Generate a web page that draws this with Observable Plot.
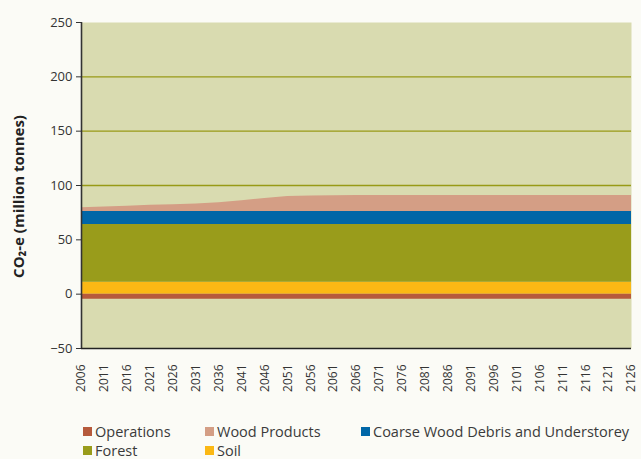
<!DOCTYPE html>
<html>
<head>
<meta charset="utf-8">
<script src="https://cdn.jsdelivr.net/npm/d3@7"></script>
<script src="https://cdn.jsdelivr.net/npm/@observablehq/plot@0.6"></script>
<style>
  html, body { margin: 0; padding: 0; background: #fbfbf6; }
  body { width: 641px; height: 459px; position: relative; overflow: hidden; font-family: "Open Sans", "DejaVu Sans", sans-serif; }
  #legend { position: absolute; left: 0; top: 0; width: 641px; height: 459px; pointer-events: none; }
  .item { position: absolute; font-size: 14.5px; color: #3a3a3a; line-height: 17px; white-space: nowrap; }
  .sw { position: absolute; width: 9px; height: 9px; left: 0; top: 4px; }
  .lbl { position: absolute; left: 12px; top: 0; }
</style>
</head>
<body>
<div id="chart"></div>
<div id="legend"></div>
<script>
// ---- data ----
const years = [2006, 2011, 2016, 2021, 2026, 2031, 2036, 2041, 2046, 2051, 2056, 2061, 2066, 2071, 2076, 2081, 2086, 2091, 2096, 2101, 2106, 2111, 2116, 2121, 2126];
const seriesNames = ["Soil", "Forest", "Coarse Wood Debris and Understorey", "Wood Products", "Operations"];
const soil       = [11, 11, 11, 11, 11, 11, 11, 11, 11, 11, 11, 11, 11, 11, 11, 11, 11, 11, 11, 11, 11, 11, 11, 11, 11];
const forest     = [53, 53, 53, 53, 53, 53, 53, 53, 53, 53, 53, 53, 53, 53, 53, 53, 53, 53, 53, 53, 53, 53, 53, 53, 53];
const cwd        = [12, 12, 12, 12, 12, 12, 12, 12, 12, 12, 12, 12, 12, 12, 12, 12, 12, 12, 12, 12, 12, 12, 12, 12, 12];
const woodProducts = [3.5, 4.2, 5.0, 5.8, 6.4, 7.0, 8.2, 10.0, 12.0, 13.8, 14.3, 14.6, 14.8, 14.8, 14.8, 14.8, 14.8, 14.8, 14.8, 14.8, 14.8, 14.8, 14.8, 14.8, 14.8];
const operations = [-4.6, -4.6, -4.6, -4.6, -4.6, -4.6, -4.6, -4.6, -4.6, -4.6, -4.6, -4.6, -4.6, -4.6, -4.6, -4.6, -4.6, -4.6, -4.6, -4.6, -4.6, -4.6, -4.6, -4.6, -4.6];
const yTicks = [-50, 0, 50, 100, 150, 200, 250];
const gridValues = [50, 100, 150, 200];
const legendOrder = ["Operations", "Wood Products", "Coarse Wood Debris and Understorey", "Forest", "Soil"];
const colors = {
  "Operations": "#b65a3c",
  "Wood Products": "#d49e85",
  "Coarse Wood Debris and Understorey": "#0066a7",
  "Forest": "#999c1b",
  "Soil": "#fbb814"
};

// ---- build table ----
const seriesValues = [soil, forest, cwd, woodProducts, operations];
const table = [];
seriesNames.forEach((name, i) => {
  years.forEach((yr, j) => table.push({ series: name, year: yr, value: seriesValues[i][j] }));
});

const chart = Plot.plot({
  width: 641,
  height: 410,
  marginTop: 22,
  marginBottom: 62,
  marginLeft: 81,
  marginRight: 10,
  style: { background: "transparent", fontFamily: "'Open Sans', 'DejaVu Sans', sans-serif", color: "#333" },
  x: { domain: [2006, 2126] },
  y: { domain: [-50, 250] },
  color: { domain: seriesNames, range: seriesNames.map(n => colors[n]) },
  marks: [
    Plot.frame({ fill: "#d9dbb0", stroke: null }),
    Plot.ruleY(gridValues, { stroke: "#989a17", strokeWidth: 1.3 }),
    Plot.areaY(table, { x: "year", y: "value", fill: "series", z: "series", curve: "linear" }),
    Plot.axisY({ ticks: yTicks, tickSize: 5, tickPadding: 4, fontSize: 13, label: null, stroke: "#333" }),
    Plot.axisX({ ticks: years, tickFormat: d => String(d), tickRotate: -90, tickSize: 0, tickPadding: 16, fontSize: 12, label: null }),
    Plot.ruleX([2006], { stroke: "#333", strokeWidth: 1.6 }),
    Plot.ruleY([-50], { stroke: "#222", strokeWidth: 1.5 }),
    Plot.text(["CO₂-e (million tonnes)"], { text: d => d, frameAnchor: "left", textAnchor: "middle", dx: -62, dy: 11, rotate: -90, fontWeight: "bold", fontSize: 15, fill: "#222" })
  ]
});
document.getElementById("chart").appendChild(chart);

// ---- legend ----
const legendPos = {
  "Operations": [83, 423],
  "Wood Products": [205, 423],
  "Coarse Wood Debris and Understorey": [361, 423],
  "Forest": [83, 442],
  "Soil": [205, 442]
};
const leg = document.getElementById("legend");
legendOrder.forEach(name => {
  const [lx, ly] = legendPos[name];
  const it = document.createElement("div");
  it.className = "item";
  it.style.left = lx + "px";
  it.style.top = ly + "px";
  it.innerHTML = `<span class="sw" style="background:${colors[name]}"></span><span class="lbl">${name}</span>`;
  leg.appendChild(it);
});
</script>
</body>
</html>
